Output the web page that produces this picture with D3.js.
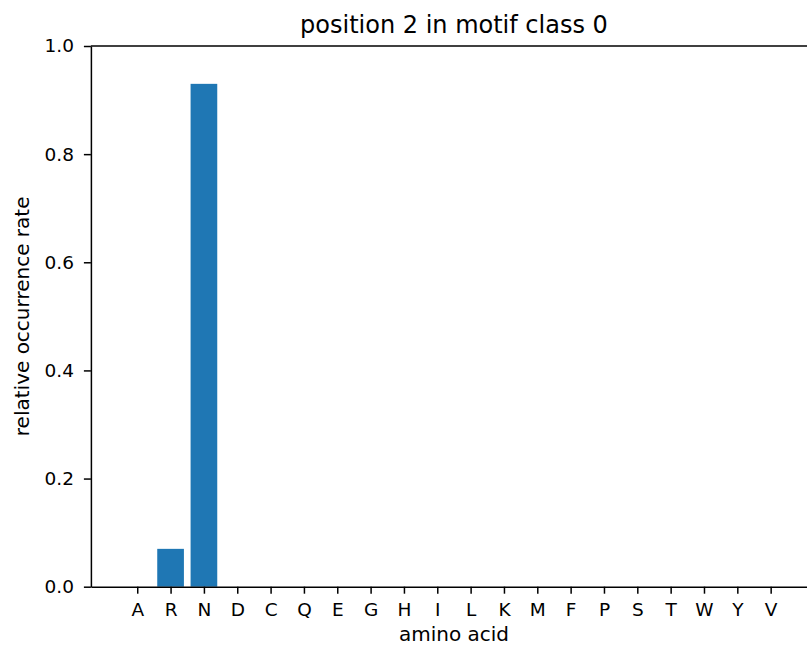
<!DOCTYPE html>
<html>
<head>
<meta charset="utf-8">
<script src="https://cdn.jsdelivr.net/npm/d3@7"></script>
<style>
  body { margin: 0; background: #fff; }
  text { font-family: "DejaVu Sans", sans-serif; fill: #000; }
</style>
</head>
<body>
<div id="chart"></div>
<script>
// amino acids along the x axis
var aminoAcids = ["A", "R", "N", "D", "C", "Q", "E", "G", "H", "I",
                  "L", "K", "M", "F", "P", "S", "T", "W", "Y", "V"];
// relative occurrence rate at position 2, motif class 0
var rates = [0, 0.07, 0.93, 0, 0, 0, 0, 0, 0, 0,
             0, 0, 0, 0, 0, 0, 0, 0, 0, 0];
var yTicks = [0, 0.2, 0.4, 0.6, 0.8, 1.0];
var titleText = "position 2 in motif class 0";

var width = 807, height = 650;
var plotLeft = 90.9, plotRight = 817, plotTop = 46, plotBottom = 586.7;
var barWidth = 0.8;

var svg = d3.select("#chart").append("svg")
  .attr("width", width)
  .attr("height", height);

// matplotlib style x limits: bar extent plus 5% margin
var lo = -barWidth / 2, hi = aminoAcids.length - 1 + barWidth / 2;
var pad = (hi - lo) * 0.05;
var x = d3.scaleLinear()
  .domain([lo - pad, hi + pad])
  .range([plotLeft, plotRight]);

var y = d3.scaleLinear()
  .domain([0, 1])
  .range([plotBottom, plotTop]);

// bars
svg.append("g")
  .selectAll("rect")
  .data(rates)
  .enter().append("rect")
    .attr("x", function(d, i) { return x(i - barWidth / 2); })
    .attr("width", function() { return x(barWidth) - x(0); })
    .attr("y", function(d) { return y(d); })
    .attr("height", function(d) { return y(0) - y(d); })
    .attr("fill", "#1f77b4");

// x axis
var xAxis = d3.axisBottom(x)
  .tickValues(d3.range(aminoAcids.length))
  .tickFormat(function(i) { return aminoAcids[i]; })
  .tickSizeInner(7)
  .tickSizeOuter(0)
  .tickPadding(9);

var gx = svg.append("g")
  .attr("transform", "translate(0," + plotBottom + ")")
  .call(xAxis);

// y axis
var yAxis = d3.axisLeft(y)
  .tickValues(yTicks)
  .tickFormat(d3.format(".1f"))
  .tickSizeInner(7)
  .tickSizeOuter(0)
  .tickPadding(10);

var gy = svg.append("g")
  .attr("transform", "translate(" + plotLeft + ",0)")
  .call(yAxis);

[gx, gy].forEach(function(g) {
  g.selectAll("text").style("font-size", "18.5px").attr("fill", "#000");
  g.selectAll("line").attr("stroke", "#000").attr("stroke-width", 1.5);
  g.select(".domain").attr("stroke", "#000").attr("stroke-width", 1.5);
});

// top spine (the right one falls off the picture)
svg.append("line")
  .attr("x1", plotLeft).attr("x2", plotRight)
  .attr("y1", plotTop).attr("y2", plotTop)
  .attr("stroke", "#000")
  .attr("stroke-width", 1.5);

svg.append("text")
  .attr("x", (plotLeft + plotRight) / 2)
  .attr("y", 33)
  .attr("text-anchor", "middle")
  .style("font-size", "24px")
  .text(titleText);

svg.append("text")
  .attr("x", (plotLeft + plotRight) / 2)
  .attr("y", 641)
  .attr("text-anchor", "middle")
  .style("font-size", "20px")
  .text("amino acid");

svg.append("text")
  .attr("transform", "translate(29," + (plotTop + plotBottom) / 2 + ") rotate(-90)")
  .attr("text-anchor", "middle")
  .style("font-size", "20px")
  .text("relative occurrence rate");
</script>
</body>
</html>
